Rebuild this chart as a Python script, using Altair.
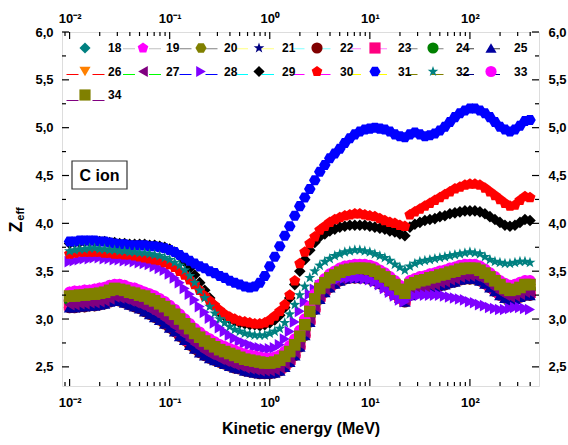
import json

import altair as alt
import pandas as pd

FONT = "Liberation Sans"

# ---- series definitions -------------------------------------------------
SERIES = [str(n) for n in range(18, 35)]
COLORS = [
    "#008080", "#FF00FF", "#808000", "#000080", "#800000", "#FF0080",
    "#008000", "#0000A0", "#FF8000", "#800080", "#8000FF", "#000000",
    "#FF0000", "#0000FF", "#008080", "#FF00FF", "#808000",
]
# colour of the short connecting line drawn beside each legend symbol
LINE_COLORS = [
    "rgba(0,0,0,0)", "#C0C0C0", "#808080", "#FFFF80", "#80FFFF", "#FF80FF",
    "#808080", "#404040", "#FF0000", "#00FF00", "#0000FF", "#00FFFF",
    "#FF00FF", "#FFFF00", "#808000", "#000080", "#800080",
]
PENTAGON = "M0,-1L0.951,-0.309L0.588,0.809L-0.588,0.809L-0.951,-0.309Z"
HEXAGON = "M-1,0L-0.5,-0.866L0.5,-0.866L1,0L0.5,0.866L-0.5,0.866Z"
STAR = ("M0,-1L0.235,-0.324L0.951,-0.309L0.38,0.124L0.588,0.809L0,0.4"
        "L-0.588,0.809L-0.38,0.124L-0.951,-0.309L-0.235,-0.324Z")
SHAPES = [
    "diamond", PENTAGON, HEXAGON, STAR, "circle", "square", "circle",
    "triangle-up", "triangle-down", "triangle-left", "triangle-right",
    "diamond", PENTAGON, HEXAGON, STAR, "circle", "square",
]

# energy grid: 10^-2 ... 10^2.6 MeV, 20 points per decade
ENERGY = [round(10 ** (-2 + 0.05 * i), 6) for i in range(93)]

Z_BLUE = [
    3.81, 3.81, 3.82, 3.82, 3.82, 3.82, 3.81, 3.81, 3.80, 3.79,
    3.78, 3.78, 3.77, 3.77, 3.77, 3.77, 3.76, 3.76, 3.75, 3.74,
    3.72, 3.70, 3.67, 3.64, 3.61, 3.58, 3.55, 3.53, 3.50, 3.48,
    3.45, 3.43, 3.40, 3.38, 3.36, 3.34, 3.33, 3.34, 3.38, 3.45,
    3.55, 3.65, 3.76, 3.87, 3.97, 4.08, 4.18, 4.27, 4.36, 4.45,
    4.54, 4.61, 4.68, 4.73, 4.78, 4.84, 4.89, 4.93, 4.96, 4.98,
    4.99, 5.00, 4.99, 4.98, 4.96, 4.93, 4.91, 4.90, 4.93, 4.95,
    4.93, 4.91, 4.92, 4.94, 4.97, 5.01, 5.06, 5.11, 5.15, 5.18,
    5.20, 5.20, 5.18, 5.15, 5.11, 5.06, 5.01, 4.98, 4.96, 4.98,
    5.02, 5.07, 5.08,
]
Z_BLACK = [
    3.79, 3.80, 3.80, 3.81, 3.81, 3.81, 3.81, 3.81, 3.80, 3.80,
    3.79, 3.79, 3.78, 3.78, 3.78, 3.78, 3.77, 3.77, 3.76, 3.75,
    3.73, 3.70, 3.66, 3.60, 3.53, 3.46, 3.38, 3.30, 3.22, 3.14,
    3.07, 3.03, 3.00, 2.98, 2.96, 2.95, 2.94, 2.94, 2.93, 2.94,
    2.96, 2.99, 3.04, 3.12, 3.22, 3.36, 3.50, 3.62, 3.72, 3.80,
    3.86, 3.89, 3.92, 3.94, 3.96, 3.97, 3.98, 3.98, 3.98, 3.98,
    3.97, 3.96, 3.95, 3.94, 3.92, 3.91, 3.89, 3.87, 3.96, 3.99,
    4.01, 4.03, 4.04, 4.05, 4.07, 4.08, 4.10, 4.11, 4.12, 4.13,
    4.13, 4.13, 4.12, 4.10, 4.07, 4.04, 4.01, 3.98, 3.97, 3.98,
    4.01, 4.04, 4.03,
]
Z_RED = [
    3.68, 3.69, 3.70, 3.70, 3.70, 3.70, 3.70, 3.69, 3.69, 3.68,
    3.68, 3.67, 3.67, 3.66, 3.65, 3.64, 3.63, 3.62, 3.61, 3.59,
    3.57, 3.54, 3.50, 3.46, 3.41, 3.36, 3.30, 3.24, 3.19, 3.14,
    3.09, 3.05, 3.02, 3.00, 2.98, 2.97, 2.96, 2.95, 2.95, 2.96,
    2.99, 3.03, 3.08, 3.15, 3.25, 3.40, 3.58, 3.70, 3.79, 3.86,
    3.93, 3.97, 4.01, 4.04, 4.06, 4.08, 4.09, 4.10, 4.10, 4.09,
    4.08, 4.07, 4.05, 4.03, 4.01, 4.00, 3.98, 3.97, 4.09, 4.12,
    4.15, 4.18, 4.21, 4.24, 4.27, 4.30, 4.33, 4.36, 4.38, 4.40,
    4.41, 4.41, 4.40, 4.37, 4.33, 4.29, 4.25, 4.21, 4.18, 4.19,
    4.24, 4.28, 4.27,
]
Z_TEAL = [
    3.71, 3.72, 3.73, 3.73, 3.74, 3.74, 3.73, 3.73, 3.72, 3.72,
    3.71, 3.71, 3.70, 3.70, 3.69, 3.69, 3.68, 3.67, 3.66, 3.64,
    3.62, 3.59, 3.56, 3.51, 3.45, 3.38, 3.30, 3.22, 3.13, 3.06,
    3.00, 2.96, 2.92, 2.89, 2.87, 2.85, 2.84, 2.83, 2.83, 2.83,
    2.85, 2.87, 2.90, 2.96, 3.05, 3.15, 3.25, 3.34, 3.43, 3.50,
    3.56, 3.60, 3.63, 3.66, 3.68, 3.70, 3.71, 3.72, 3.72, 3.71,
    3.70, 3.68, 3.66, 3.64, 3.61, 3.57, 3.54, 3.51, 3.55, 3.58,
    3.60, 3.61, 3.62, 3.63, 3.64, 3.65, 3.66, 3.67, 3.68, 3.69,
    3.70, 3.69, 3.68, 3.65, 3.62, 3.60, 3.59, 3.58, 3.58, 3.59,
    3.60, 3.60, 3.59,
]
Z_VIOLET = [
    3.60, 3.61, 3.62, 3.63, 3.63, 3.64, 3.64, 3.63, 3.63, 3.62,
    3.62, 3.61, 3.61, 3.60, 3.59, 3.58, 3.57, 3.55, 3.53, 3.51,
    3.47, 3.43, 3.38, 3.32, 3.26, 3.20, 3.13, 3.07, 3.01, 2.96,
    2.91, 2.87, 2.83, 2.80, 2.77, 2.75, 2.73, 2.71, 2.70, 2.69,
    2.69, 2.70, 2.73, 2.79, 2.87, 2.97, 3.08, 3.18, 3.26, 3.31,
    3.35, 3.37, 3.39, 3.41, 3.42, 3.43, 3.43, 3.43, 3.43, 3.42,
    3.41, 3.39, 3.36, 3.32, 3.28, 3.24, 3.20, 3.18, 3.23, 3.24,
    3.25, 3.25, 3.25, 3.25, 3.25, 3.24, 3.23, 3.22, 3.21, 3.20,
    3.18, 3.17, 3.15, 3.14, 3.12, 3.11, 3.10, 3.10, 3.11, 3.12,
    3.12, 3.11, 3.10,
]
Z_MAGENTA = [
    3.28, 3.29, 3.29, 3.30, 3.30, 3.31, 3.32, 3.33, 3.35, 3.36,
    3.36, 3.35, 3.33, 3.32, 3.30, 3.28, 3.26, 3.24, 3.21, 3.18,
    3.14, 3.10, 3.05, 3.00, 2.95, 2.90, 2.86, 2.82, 2.79, 2.76,
    2.73, 2.71, 2.69, 2.67, 2.65, 2.63, 2.62, 2.61, 2.60, 2.59,
    2.59, 2.60, 2.62, 2.66, 2.72, 2.79, 2.88, 3.00, 3.13, 3.26,
    3.36, 3.42, 3.47, 3.50, 3.53, 3.55, 3.56, 3.57, 3.57, 3.57,
    3.56, 3.54, 3.51, 3.48, 3.44, 3.40, 3.35, 3.31, 3.40, 3.42,
    3.44, 3.45, 3.47, 3.48, 3.50, 3.51, 3.53, 3.54, 3.56, 3.57,
    3.57, 3.57, 3.55, 3.52, 3.48, 3.44, 3.40, 3.37, 3.35, 3.36,
    3.38, 3.40, 3.40,
]
Z_OLIVE = [
    3.24, 3.24, 3.25, 3.25, 3.26, 3.26, 3.27, 3.28, 3.30, 3.32,
    3.31, 3.30, 3.28, 3.27, 3.25, 3.24, 3.21, 3.19, 3.16, 3.13,
    3.09, 3.05, 3.00, 2.95, 2.90, 2.85, 2.81, 2.77, 2.74, 2.71,
    2.68, 2.66, 2.64, 2.62, 2.60, 2.58, 2.57, 2.56, 2.55, 2.54,
    2.54, 2.55, 2.57, 2.61, 2.66, 2.73, 2.82, 2.94, 3.08, 3.21,
    3.32, 3.38, 3.43, 3.46, 3.49, 3.51, 3.52, 3.53, 3.53, 3.53,
    3.52, 3.50, 3.47, 3.44, 3.40, 3.36, 3.31, 3.27, 3.36, 3.38,
    3.40, 3.41, 3.43, 3.44, 3.46, 3.47, 3.49, 3.50, 3.52, 3.53,
    3.53, 3.53, 3.51, 3.48, 3.44, 3.40, 3.36, 3.32, 3.30, 3.31,
    3.33, 3.36, 3.36,
]
Z_ORANGE = [
    3.19, 3.19, 3.20, 3.20, 3.21, 3.21, 3.22, 3.23, 3.25, 3.27,
    3.26, 3.25, 3.23, 3.22, 3.20, 3.18, 3.15, 3.12, 3.09, 3.06,
    3.02, 2.98, 2.93, 2.88, 2.83, 2.79, 2.75, 2.71, 2.68, 2.65,
    2.63, 2.61, 2.59, 2.57, 2.55, 2.53, 2.52, 2.51, 2.50, 2.49,
    2.49, 2.50, 2.52, 2.56, 2.61, 2.68, 2.77, 2.89, 3.03, 3.16,
    3.27, 3.33, 3.38, 3.42, 3.45, 3.47, 3.48, 3.49, 3.49, 3.49,
    3.48, 3.46, 3.43, 3.40, 3.36, 3.32, 3.27, 3.23, 3.31, 3.33,
    3.35, 3.36, 3.38, 3.39, 3.41, 3.42, 3.44, 3.45, 3.47, 3.48,
    3.48, 3.48, 3.46, 3.43, 3.39, 3.35, 3.31, 3.28, 3.26, 3.27,
    3.29, 3.31, 3.31,
]
Z_PURPLE = [
    3.15, 3.15, 3.16, 3.16, 3.17, 3.17, 3.18, 3.19, 3.21, 3.23,
    3.22, 3.21, 3.19, 3.17, 3.15, 3.13, 3.10, 3.07, 3.04, 3.00,
    2.96, 2.92, 2.87, 2.83, 2.78, 2.74, 2.70, 2.66, 2.63, 2.61,
    2.58, 2.56, 2.54, 2.52, 2.51, 2.49, 2.48, 2.47, 2.46, 2.46,
    2.46, 2.47, 2.49, 2.53, 2.58, 2.65, 2.74, 2.86, 3.00, 3.13,
    3.24, 3.31, 3.36, 3.40, 3.43, 3.45, 3.46, 3.46, 3.46, 3.46,
    3.45, 3.43, 3.40, 3.37, 3.33, 3.28, 3.24, 3.20, 3.28, 3.30,
    3.32, 3.33, 3.35, 3.36, 3.38, 3.39, 3.41, 3.42, 3.44, 3.45,
    3.45, 3.45, 3.43, 3.40, 3.36, 3.32, 3.28, 3.25, 3.23, 3.24,
    3.26, 3.28, 3.28,
]
Z_NAVY = [
    3.12, 3.12, 3.13, 3.13, 3.14, 3.14, 3.15, 3.16, 3.18, 3.20,
    3.19, 3.17, 3.15, 3.13, 3.11, 3.08, 3.05, 3.02, 2.99, 2.95,
    2.91, 2.87, 2.82, 2.78, 2.73, 2.69, 2.65, 2.62, 2.59, 2.57,
    2.55, 2.53, 2.51, 2.49, 2.48, 2.46, 2.45, 2.44, 2.43, 2.43,
    2.43, 2.44, 2.46, 2.50, 2.55, 2.62, 2.71, 2.83, 2.97, 3.10,
    3.21, 3.28, 3.33, 3.37, 3.40, 3.42, 3.43, 3.43, 3.43, 3.43,
    3.42, 3.40, 3.37, 3.34, 3.30, 3.26, 3.22, 3.18, 3.25, 3.27,
    3.29, 3.30, 3.32, 3.33, 3.35, 3.36, 3.38, 3.39, 3.41, 3.42,
    3.42, 3.42, 3.40, 3.37, 3.33, 3.29, 3.25, 3.22, 3.20, 3.21,
    3.23, 3.25, 3.25,
]

VALUES = {
    "18": Z_NAVY, "19": Z_MAGENTA, "20": Z_OLIVE, "21": Z_PURPLE,
    "22": Z_NAVY, "23": Z_PURPLE, "24": Z_ORANGE, "25": Z_NAVY,
    "26": Z_ORANGE, "27": Z_PURPLE, "28": Z_VIOLET, "29": Z_BLACK,
    "30": Z_RED, "31": Z_BLUE, "32": Z_TEAL, "33": Z_MAGENTA,
    "34": Z_OLIVE,
}

X_MAJOR = [0.01, 0.1, 1, 10, 100]
X_LABELS = ["10\u207b\u00b2", "10\u207b\u00b9", "10\u2070", "10\u00b9", "10\u00b2"]
X_MINOR = [0.009, 0.02, 0.03, 0.04, 0.05, 0.06, 0.07, 0.08, 0.09,
           0.2, 0.3, 0.4, 0.5, 0.6, 0.7, 0.8, 0.9,
           2, 3, 4, 5, 6, 7, 8, 9,
           20, 30, 40, 50, 60, 70, 80, 90,
           200, 300, 400]
Y_MAJOR = [2.5, 3.0, 3.5, 4.0, 4.5, 5.0, 5.5, 6.0]
Y_MINOR = [2.75, 3.25, 3.75, 4.25, 4.75, 5.25, 5.75]

# ---- layout ---------------------------------------------------------------
W, H = 477, 354
MAJ, MIN = 7, 4

# keys of the line-stub legend, one per series
LINE_KEYS = ["L" + s for s in SERIES]

rows = []
for s, k in zip(SERIES, LINE_KEYS):
    for e, z in zip(ENERGY, VALUES[s]):
        rows.append({"series": s, "line": k, "energy": e, "zeff": z})
df = pd.DataFrame(rows)

xs = alt.Scale(type="log", domain=[0.0084, 490])
ys = alt.Scale(domain=[2.30, 6.0], nice=False, zero=False)

x_label_expr = (json.dumps(X_LABELS, ensure_ascii=False).replace('"', "'")
                + "[round(log(datum.value) / LN10) + 2]")
y_label_expr = "replace(format(datum.value, '.1f'), '.', ',')"

label_style = dict(labelFont=FONT, labelFontWeight="bold", labelFontSize=13,
                   labelColor="#000000", ticks=False, domain=False, grid=False)

x_bottom = alt.Axis(values=X_MAJOR, labelExpr=x_label_expr, labelPadding=10,
                    labelFlush=False, title="Kinetic energy (MeV)",
                    titleFont=FONT, titleFontWeight="bold", titleFontSize=16,
                    titleColor="#000000", titlePadding=11, **label_style)
x_top = alt.Axis(orient="top", values=X_MAJOR, labelExpr=x_label_expr,
                 labelPadding=7, labelFlush=False, title=None, **label_style)
y_left = alt.Axis(values=Y_MAJOR, labelExpr=y_label_expr, labelPadding=9,
                  labelFlush=False, title=None, **label_style)
y_right = alt.Axis(orient="right", values=Y_MAJOR, labelExpr=y_label_expr,
                   labelPadding=9, labelFlush=False, title=None, **label_style)

# legend grid: 8 columns, ~58 px pitch, ~22.5 px rows
SYM = 125                      # marker symbol area
STUB = 38                      # length of the connecting line
legend = alt.Legend(
    title=None, orient="none", legendX=17, legendY=10,
    direction="horizontal", columns=8, labelFont=FONT,
    labelFontWeight="bold", labelFontSize=12, labelColor="#000000",
    symbolSize=SYM, labelOffset=17, columnPadding=15, rowPadding=11.5,
    padding=0, symbolStrokeWidth=0,
)
stub_legend = alt.Legend(
    title=None, orient="none", legendX=4, legendY=-3,
    direction="horizontal", columns=8,
    symbolType="stroke", symbolSize=STUB ** 2, symbolStrokeWidth=1,
    symbolDash=[12, 14, 12], labelExpr="''", labelFontSize=12,
    labelOffset=0, columnPadding=13.5, rowPadding=-3.5, padding=0,
)

# carries only the legend's line stubs; no rows are drawn
stubs = alt.Chart(df).transform_filter("false").mark_line().encode(
    x=alt.X("energy:Q", scale=xs, axis=None),
    y=alt.Y("zeff:Q", scale=ys, axis=None),
    stroke=alt.Stroke("line:N",
                      scale=alt.Scale(domain=LINE_KEYS, range=LINE_COLORS),
                      legend=stub_legend),
)

points = alt.Chart(df).mark_point(filled=True, size=135, opacity=1,
                                  strokeWidth=0).encode(
    x=alt.X("energy:Q", scale=xs, axis=x_bottom),
    y=alt.Y("zeff:Q", scale=ys, axis=y_left),
    color=alt.Color("series:N", scale=alt.Scale(domain=SERIES, range=COLORS),
                    legend=legend),
    shape=alt.Shape("series:N", scale=alt.Scale(domain=SERIES, range=SHAPES),
                    legend=legend),
)


def x_ticks(values, edge, inner, axis=None):
    return alt.Chart(pd.DataFrame({"v": values})).mark_rule(
        color="#000000", strokeWidth=1.2
    ).encode(x=alt.X("v:Q", scale=xs, axis=axis),
             y=alt.value(edge), y2=alt.value(inner))


def y_ticks(values, edge, inner, axis=None):
    return alt.Chart(pd.DataFrame({"v": values})).mark_rule(
        color="#000000", strokeWidth=1.2
    ).encode(y=alt.Y("v:Q", scale=ys, axis=axis),
             x=alt.value(edge), x2=alt.value(inner))


tick_layers = [
    x_ticks(X_MAJOR, H, H - MAJ),
    x_ticks(X_MINOR, H, H - MIN),
    x_ticks(X_MAJOR, 0, MAJ, axis=x_top),
    x_ticks(X_MINOR, 0, MIN),
    y_ticks(Y_MAJOR, 0, MAJ),
    y_ticks(Y_MINOR, 0, MIN),
    y_ticks(Y_MAJOR, W, W - MAJ, axis=y_right),
    y_ticks(Y_MINOR, W, W - MIN),
]

# "C ion" label box
note = pd.DataFrame({"t": ["C ion"]})
box = alt.Chart(note).mark_rect(fill="#FFFFFF", stroke="#333333",
                                strokeWidth=1.2).encode(
    x=alt.value(10), x2=alt.value(65), y=alt.value(129), y2=alt.value(157))
box_text = alt.Chart(note).mark_text(
    font=FONT, fontWeight="bold", fontSize=16, color="#000000",
    align="center", baseline="middle").encode(
    x=alt.value(37.5), y=alt.value(144), text="t:N")

# y-axis title: Z with subscript "eff"
z_main = alt.Chart(pd.DataFrame({"t": ["Z"]})).mark_text(
    font=FONT, fontWeight="bold", fontSize=18, color="#000000", angle=270,
    align="center", baseline="middle").encode(
    x=alt.value(-45), y=alt.value(195), text="t:N")
z_sub = alt.Chart(pd.DataFrame({"t": ["eff"]})).mark_text(
    font=FONT, fontWeight="bold", fontSize=11, color="#000000", angle=270,
    align="center", baseline="middle").encode(
    x=alt.value(-41), y=alt.value(182), text="t:N")

chart = alt.layer(
    stubs, points, *tick_layers, box, box_text, z_main, z_sub
).resolve_axis(
    x="independent", y="independent"
).properties(
    width=W, height=H,
    padding={"left": 62, "top": 32, "right": 568 - 62 - W,
             "bottom": 445 - 32 - H},
    autosize=alt.AutoSizeParams(type="none"),
).configure_view(
    stroke="#000000", strokeWidth=1.6
).configure(background="#FFFFFF")

chart.save("out.html", embed_options={"renderer": "svg", "actions": False})
